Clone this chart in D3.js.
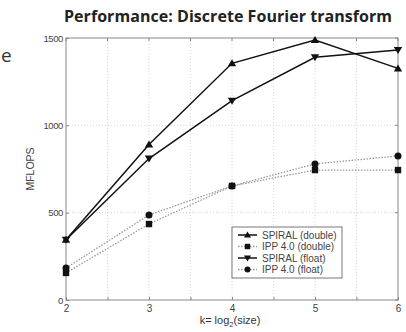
<!DOCTYPE html>
<html><head><meta charset="utf-8">
<script src="https://cdn.jsdelivr.net/npm/d3@7"></script>
<style>body{margin:0;background:#fff}svg{display:block}</style>
</head><body>
<svg id="c" width="406" height="332"></svg>
<script>
const ks = [2, 3, 4, 5, 6];
const spiralDouble = [345, 890, 1355, 1489, 1326];
const ippDouble = [155, 435, 653, 744, 744];
const spiralFloat = [345, 810, 1141, 1390, 1431];
const ippFloat = [183, 487, 653, 779, 825];
const seriesNames = ["SPIRAL (double)", "IPP 4.0 (double)", "SPIRAL (float)", "IPP 4.0 (float)"];
const yTicks = [0, 500, 1000, 1500];
const xTicks = [2, 3, 4, 5, 6];
const xGrid = [2.5, 3, 3.5, 4, 4.5, 5, 5.5];

const svg = d3.select("#c");
const L = 66, R = 398, T = 38, B = 300;
const x = d3.scaleLinear().domain([2, 6]).range([L, R]);
const y = d3.scaleLinear().domain([0, 1500]).range([B, T]);

// title and stray text
svg.append("text").attr("x", 228).attr("y", 22).attr("text-anchor", "middle")
  .attr("font-family", "Open Sans, sans-serif").attr("font-weight", "bold").attr("font-size", 16)
  .attr("fill", "#222").attr("textLength", 328).text("Performance: Discrete Fourier transform");
svg.append("text").attr("x", 1).attr("y", 62).attr("font-family", "Open Sans, sans-serif")
  .attr("font-size", 19).attr("fill", "#333").text("e");

// grid
const g = svg.append("g");
g.selectAll(".vg").data(xGrid).join("line").attr("x1", d => x(d)).attr("x2", d => x(d))
  .attr("y1", T).attr("y2", B).attr("stroke", "#ccc").attr("stroke-width", 0.8).attr("stroke-dasharray", "1,2");
g.selectAll(".hg").data([500, 1000]).join("line").attr("x1", L).attr("x2", R)
  .attr("y1", d => y(d)).attr("y2", d => y(d)).attr("stroke", "#ccc").attr("stroke-width", 0.8).attr("stroke-dasharray", "1,2");

// box
svg.append("rect").attr("x", L).attr("y", T).attr("width", R - L).attr("height", B - T)
  .attr("fill", "none").attr("stroke", "#888").attr("stroke-width", 1);

// axes
const xa = svg.append("g").attr("transform", `translate(0,${B})`)
  .call(d3.axisBottom(x).tickValues(d3.range(2, 6.01, 0.5)).tickSize(-3).tickFormat(d => Number.isInteger(d) ? d : ""));
xa.select(".domain").remove();
xa.selectAll("line").attr("stroke", "#888");
xa.selectAll("text").attr("dy", "0.9em").attr("font-family", "Liberation Sans, Arial, sans-serif").attr("font-size", 10).attr("fill", "#444");
const ya = svg.append("g").attr("transform", `translate(${L},0)`)
  .call(d3.axisLeft(y).tickValues(yTicks).tickSize(-3).tickPadding(3).tickFormat(d3.format("d")));
ya.select(".domain").remove();
ya.selectAll("line").attr("stroke", "#888");
ya.selectAll("text").attr("font-family", "Liberation Sans, Arial, sans-serif").attr("font-size", 9.5).attr("fill", "#444").attr("letter-spacing", -0.4);
// top and right minor ticks
svg.append("g").selectAll("line").data(d3.range(2, 6.01, 0.5)).join("line")
  .attr("x1", d => x(d)).attr("x2", d => x(d)).attr("y1", T).attr("y2", T + 3).attr("stroke", "#888");
svg.append("g").selectAll("line").data(yTicks).join("line")
  .attr("x1", R - 3).attr("x2", R).attr("y1", d => y(d)).attr("y2", d => y(d)).attr("stroke", "#888");

svg.append("text").attr("transform", `translate(34,${(T + B) / 2}) rotate(-90)`).attr("text-anchor", "middle")
  .attr("font-family", "Liberation Sans, Arial, sans-serif").attr("font-size", 10.5).attr("fill", "#444").text("MFLOPS");
const xl = svg.append("text").attr("x", 230).attr("y", 324).attr("text-anchor", "middle")
  .attr("font-family", "Liberation Sans, Arial, sans-serif").attr("font-size", 11).attr("fill", "#333");
xl.append("tspan").text("k= log");
xl.append("tspan").attr("font-size", 7.5).attr("dy", 3).text("2");
xl.append("tspan").attr("dy", -3).text("(size)");

// series
const sets = [
  {v: spiralDouble, sym: "up", dash: null, color: "#111", w: 1.5},
  {v: ippDouble, sym: "sq", dash: "1.5,1.5", color: "#999", w: 1.3},
  {v: spiralFloat, sym: "down", dash: null, color: "#111", w: 1.5},
  {v: ippFloat, sym: "ci", dash: "1.5,1.5", color: "#999", w: 1.3}
];
function marker(sel, sym) {
  if (sym === "up") sel.append("path").attr("d", "M0,-4L4.2,3L-4.2,3Z");
  else if (sym === "down") sel.append("path").attr("d", "M0,4L4.2,-3L-4.2,-3Z");
  else if (sym === "sq") sel.append("rect").attr("x", -3.2).attr("y", -3.2).attr("width", 6.4).attr("height", 6.4);
  else sel.append("circle").attr("r", 3.5);
  sel.attr("fill", "#111");
}
const line = d3.line().x((d, i) => x(ks[i])).y(d => y(d));
sets.forEach(s => {
  svg.append("path").datum(s.v).attr("d", line).attr("fill", "none").attr("stroke", s.color)
    .attr("stroke-width", s.w).attr("stroke-dasharray", s.dash);
});
sets.forEach(s => {
  s.v.forEach((d, i) => {
    const m = svg.append("g").attr("transform", `translate(${x(ks[i])},${y(d)})`);
    marker(m, s.sym);
  });
});

// legend
const lg = svg.append("g").attr("transform", "translate(232,227)");
lg.append("rect").attr("width", 110).attr("height", 51).attr("fill", "#fff").attr("stroke", "#555").attr("stroke-width", 0.8);
seriesNames.forEach((n, i) => {
  const yy = 8 + i * 11.5;
  lg.append("line").attr("x1", 6).attr("x2", 25).attr("y1", yy).attr("y2", yy)
    .attr("stroke", sets[i].color).attr("stroke-width", sets[i].w).attr("stroke-dasharray", sets[i].dash);
  const m = lg.append("g").attr("transform", `translate(15.5,${yy}) scale(0.85)`);
  marker(m, sets[i].sym);
  lg.append("text").attr("x", 30).attr("y", yy + 3.5).attr("font-family", "Liberation Sans, Arial, sans-serif")
    .attr("font-size", 10).attr("fill", "#444").text(n);
});
</script>
</body></html>
